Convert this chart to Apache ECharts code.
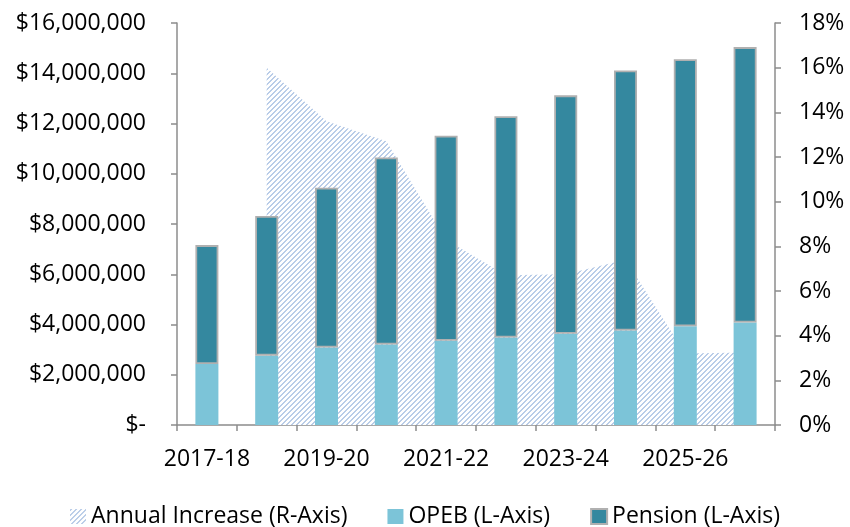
<!DOCTYPE html>
<html>
<head>
<meta charset="utf-8">
<script src="https://cdn.jsdelivr.net/npm/echarts@6/dist/echarts.min.js"></script>
<style>
  html, body { margin: 0; padding: 0; background: #fff; }
  #chart { width: 850px; height: 527px; }
</style>
</head>
<body>
<div id="chart"></div>
<script>
  // data
  const categories = ['2017-18', '2018-19', '2019-20', '2020-21', '2021-22', '2022-23', '2023-24', '2024-25', '2025-26', '2026-27'];
  const opeb = [2430000, 2760000, 3080000, 3200000, 3350000, 3480000, 3630000, 3760000, 3930000, 4080000];
  const pension = [4730000, 5560000, 6360000, 7450000, 8160000, 8810000, 9490000, 10350000, 10630000, 10960000];
  const annualIncrease = [null, 16.0, 13.6, 12.7, 8.3, 6.7, 6.75, 7.4, 3.2, 3.25];

  const FONT = '"Open Sans", "Noto Sans", sans-serif';

  // diagonal hatch for the area series
  function makeHatch() {
    const size = 10;
    const c = document.createElement('canvas');
    c.width = size;
    c.height = size;
    const ctx = c.getContext('2d');
    const img = ctx.createImageData(size, size);
    for (let y = 0; y < size; y++) {
      for (let x = 0; x < size; x++) {
        const m = (x + y) % 5;
        const i = (y * size + x) * 4;
        let r = 255, g = 255, b = 255;
        if (m === 0 || m === 1) { r = 186; g = 205; b = 232; }
        img.data[i] = r; img.data[i + 1] = g; img.data[i + 2] = b; img.data[i + 3] = 255;
      }
    }
    ctx.putImageData(img, 0, 0);
    return c;
  }
  const hatch = { image: makeHatch(), repeat: 'repeat' };

  const chart = echarts.init(document.getElementById('chart'), null, { renderer: 'canvas' });

  const axisLineStyle = { color: '#8c8c8c', width: 1.5 };
  const labelStyle = { color: '#000', fontSize: 23, fontFamily: FONT };

  const option = {
    animation: false,
    backgroundColor: '#fff',
    grid: { left: 177, right: 75, top: 23, bottom: 102 },
    legend: {
      top: 500,
      left: 'center',
      itemWidth: 16,
      itemHeight: 15,
      itemGap: 40,
      textStyle: { color: '#000', fontSize: 23, fontFamily: FONT },
      data: [
        { name: 'Annual Increase (R-Axis)', icon: 'rect', itemStyle: { color: hatch, borderWidth: 0 } },
        { name: 'OPEB (L-Axis)', icon: 'rect' },
        { name: 'Pension (L-Axis)', icon: 'rect' }
      ]
    },
    xAxis: {
      type: 'category',
      data: categories,
      boundaryGap: true,
      axisLine: { lineStyle: axisLineStyle },
      axisTick: { show: true, interval: 0, length: 6, lineStyle: axisLineStyle },
      axisLabel: Object.assign({ interval: 1, margin: 23 }, labelStyle)
    },
    yAxis: [{
      type: 'value',
      min: 0,
      max: 16000000,
      interval: 2000000,
      position: 'left',
      splitLine: { show: false },
      axisLine: { show: true, lineStyle: axisLineStyle },
      axisTick: { show: true, length: 6, lineStyle: axisLineStyle },
      axisLabel: Object.assign({
        margin: 31,
        formatter: function (v) {
          return v === 0 ? '$-' : '$' + v.toLocaleString('en-US');
        }
      }, labelStyle)
    }, {
      type: 'value',
      min: 0,
      max: 18,
      interval: 2,
      position: 'right',
      splitLine: { show: false },
      axisLine: { show: true, lineStyle: axisLineStyle },
      axisTick: { show: true, length: 6, lineStyle: axisLineStyle },
      axisLabel: Object.assign({ margin: 24, formatter: '{value}%' }, labelStyle)
    }],
    series: [{
      name: 'Annual Increase (R-Axis)',
      type: 'line',
      yAxisIndex: 1,
      data: annualIncrease,
      z: 1,
      symbol: 'none',
      lineStyle: { width: 0 },
      itemStyle: { color: '#bacde8' },
      areaStyle: { color: hatch, opacity: 1 }
    }, {
      name: 'OPEB (L-Axis)',
      type: 'bar',
      stack: 'cost',
      data: opeb,
      barWidth: 23,
      z: 2,
      itemStyle: { color: '#7cc4d8' }
    }, {
      name: 'Pension (L-Axis)',
      type: 'bar',
      stack: 'cost',
      data: pension,
      barWidth: 23,
      z: 3,
      itemStyle: { color: '#34889f', borderColor: '#b0b0b0', borderWidth: 1.8 }
    }]
  };

  chart.setOption(option);
</script>
</body>
</html>
